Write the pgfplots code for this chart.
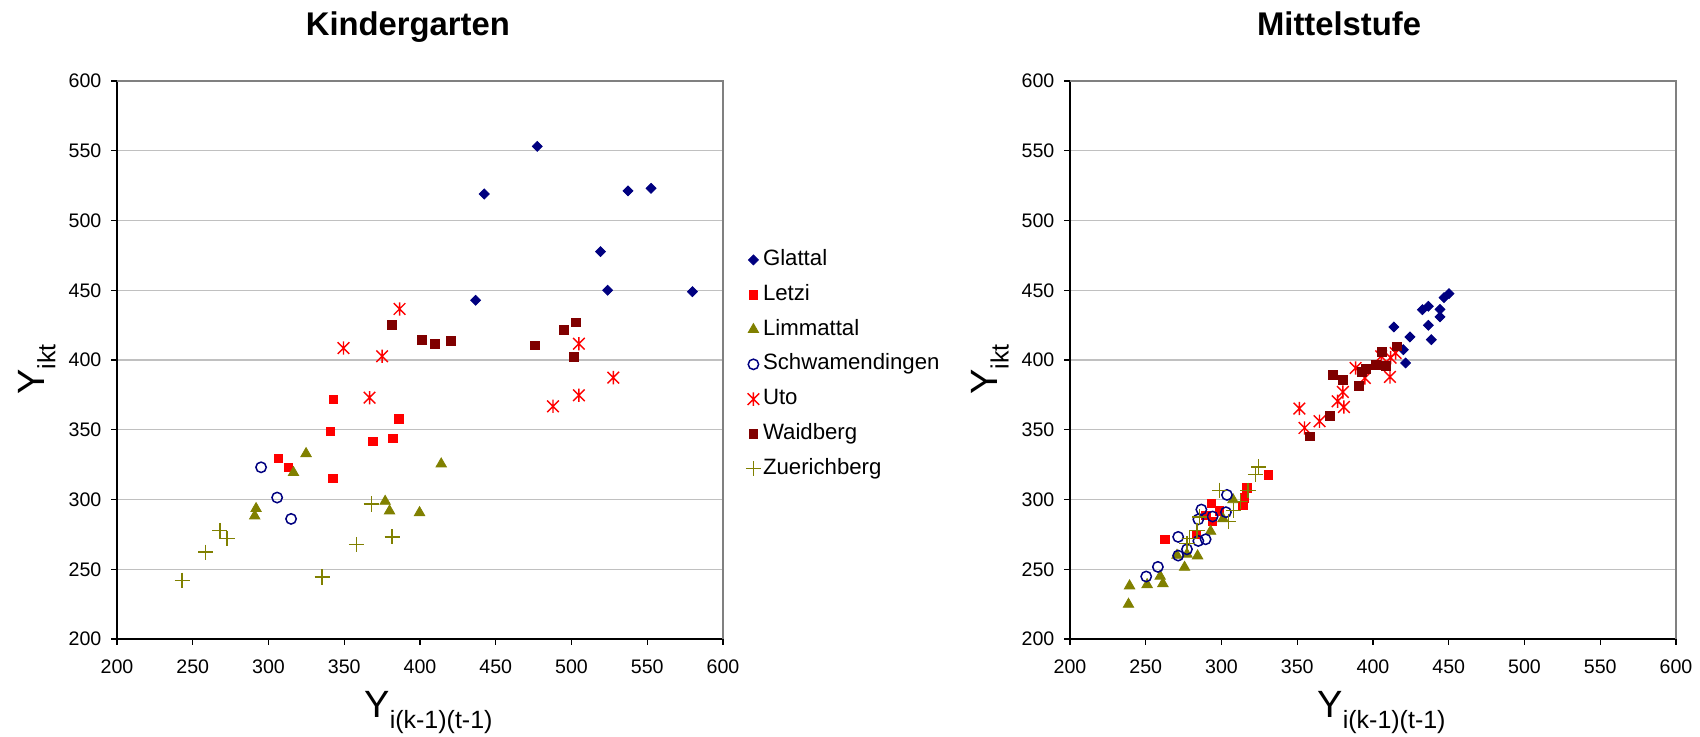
\documentclass[border=0pt]{standalone}
\usepackage{pgfplots}
\pgfplotsset{compat=1.18}
\usepackage{fontspec}
\setmainfont{Liberation Sans}
\definecolor{cnavy}{HTML}{000080}
\definecolor{cred}{HTML}{FF0000}
\definecolor{colive}{HTML}{808000}
\definecolor{cmaroon}{HTML}{800000}
\definecolor{gridgray}{HTML}{C0C0C0}
\definecolor{boxgray}{HTML}{808080}
\pgfdeclareplotmark{xstar}{%
  \pgfpathmoveto{\pgfqpoint{-\pgfplotmarksize}{-\pgfplotmarksize}}%
  \pgfpathlineto{\pgfqpoint{\pgfplotmarksize}{\pgfplotmarksize}}%
  \pgfpathmoveto{\pgfqpoint{-\pgfplotmarksize}{\pgfplotmarksize}}%
  \pgfpathlineto{\pgfqpoint{\pgfplotmarksize}{-\pgfplotmarksize}}%
  \pgfpathmoveto{\pgfqpoint{0pt}{-1.15\pgfplotmarksize}}%
  \pgfpathlineto{\pgfqpoint{0pt}{1.15\pgfplotmarksize}}%
  \pgfusepathqstroke}
\pgfplotsset{
  myax/.style={
    scale only axis, width=303pt, height=279pt,
    xmin=200, xmax=600, ymin=200, ymax=600,
    xtick={200,250,...,600}, ytick={200,250,...,600},
    ymajorgrids, grid style={color=gridgray, line width=0.6pt},
    axis x line*=bottom, axis y line*=left,
    axis line style={black, line width=0.7pt},
    tick align=outside, major tick length=2.8pt,
    tick style={black, line width=0.6pt},
    tick label style={font=\fontsize{9.8}{11.5}\selectfont},
    /pgf/number format/assume math mode=true,
    /pgf/number format/1000 sep={},
    xticklabel style={yshift=-4pt},
    yticklabel style={xshift=-1.5pt},
    xlabel={Y\raisebox{-0.29em}{\fontsize{12.5}{14}\selectfont i(k-1)(t-1)}},
    ylabel={Y\raisebox{-0.29em}{\fontsize{12.5}{14}\selectfont ikt}},
    label style={font=\fontsize{19}{23}\selectfont},
    xlabel style={at={(rel axis cs:0.514,-0.14)}, anchor=base},
    ylabel style={at={(rel axis cs:-0.132,0.483)}, anchor=center},
    title style={font=\bfseries\fontsize{16.4}{19}\selectfont, anchor=base, yshift=16.9pt},
    clip=false,
    after end axis/.code={\draw[boxgray, line width=0.6pt] (rel axis cs:0,1) -- (rel axis cs:1,1) -- (rel axis cs:1,0);},
  },
  sGlattal/.style={only marks, mark=square*, mark size=1.75pt, color=cnavy, mark options={fill=cnavy, rotate=45}},
  sLetzi/.style={only marks, mark=square*, mark size=2.1pt, color=cred, mark options={fill=cred}},
  sLimmattal/.style={only marks, mark=triangle*, mark size=3pt, color=colive, mark options={fill=colive}},
  sSchw/.style={only marks, mark=o, mark size=2.6pt, color=cnavy, mark options={line width=0.75pt}},
  sUto/.style={only marks, mark=xstar, mark size=2.9pt, color=cred, mark options={line width=0.7pt}},
  sWaid/.style={only marks, mark=square*, mark size=2.2pt, color=cmaroon, mark options={fill=cmaroon}},
  sZuer/.style={only marks, mark=+, mark size=3.8pt, color=colive, mark options={line width=0.65pt}},
}
\begin{document}
\begin{tikzpicture}
\useasboundingbox (0,0) rectangle (850pt,368pt);
% ---------------- Kindergarten ----------------
\begin{axis}[myax, at={(58.5pt,48.5pt)}, anchor=south west,
  title={Kindergarten}, title style={at={(rel axis cs:0.48,1)}},
  legend style={at={(rel axis cs:1.037,0.703)}, anchor=north west, draw=none, fill=none,
    inner sep=0pt, font=\fontsize{11.1}{13.3}\selectfont, row sep=4.6pt,
    nodes={inner sep=1pt, text height=8.2pt, text depth=2.6pt}},
  legend cell align=left]
\addplot[sGlattal] coordinates {(477.4,553.2)(442.4,519.0)(537.3,521.2)(552.5,523.1)(519.2,477.7)(523.9,450.0)(579.8,449.0)(436.7,442.8)};
\addlegendentry{Glattal}
\addplot[sLetzi] coordinates {(306.5,329.3)(313.2,323.0)(340.7,348.9)(342.7,371.6)(342.4,315.0)(368.9,341.7)(382.1,343.7)(386.0,357.9)};
\addlegendentry{Letzi}
\addplot[sLimmattal] coordinates {(324.8,332.9)(316.5,319.3)(414.0,325.5)(291.8,293.5)(290.9,288.2)(377.0,298.7)(379.9,291.8)(399.7,290.6)};
\addlegendentry{Limmattal}
\addplot[sSchw] coordinates {(295.1,323.1)(305.7,301.4)(314.9,286.1)};
\addlegendentry{Schwamendingen}
\addplot[sUto] coordinates {(386.5,436.6)(349.5,408.6)(375.0,402.7)(366.7,373.0)(504.9,411.7)(527.6,387.4)(504.9,374.7)(487.8,366.8)};
\addlegendentry{Uto}
\addplot[sWaid] coordinates {(381.2,424.9)(401.2,414.6)(409.8,411.5)(420.2,413.7)(476.1,410.5)(495.0,421.8)(502.7,427.0)(501.6,402.4)};
\addlegendentry{Waidberg}
\addplot[sZuer] coordinates {(243.0,242.1)(258.6,262.3)(267.9,277.8)(272.6,272.0)(335.4,244.5)(358.1,267.7)(367.8,296.8)(381.6,273.2)};
\addlegendentry{Zuerichberg}
\end{axis}
% ---------------- Mittelstufe ----------------
\begin{axis}[myax, at={(535pt,48.5pt)}, anchor=south west,
  title={Mittelstufe}, title style={at={(rel axis cs:0.444,1)}}]
\addplot[sGlattal] coordinates {(450.2,447.6)(446.9,444.7)(436.5,438.5)(432.6,436.1)(444.2,436.3)(444.2,430.9)(436.5,424.9)(413.8,423.7)(424.4,416.5)(438.5,414.6)(420.0,407.4)(421.5,397.9)};
\addplot[sLetzi] coordinates {(262.6,271.5)(283.3,275.1)(293.3,297.1)(289.7,288.7)(294.1,284.4)(298.6,291.8)(314.2,295.6)(315.1,301.1)(316.8,308.3)(330.9,317.6)};
\addplot[sLimmattal] coordinates {(238.6,224.9)(239.3,238.1)(250.9,239.0)(259.5,245.0)(261.3,239.7)(275.6,251.4)(277.2,260.8)(284.2,259.6)(292.8,277.2)(301.0,286.3)(307.6,299.9)(270.6,260.0)};
\addplot[sSchw] coordinates {(250.3,244.8)(258.0,251.7)(271.4,259.8)(277.2,264.3)(271.4,273.2)(284.7,270.3)(289.5,271.5)(284.7,285.8)(286.7,292.8)(294.1,287.8)(302.9,290.9)(303.6,303.3)};
\addplot[sUto] coordinates {(351.4,365.2)(354.8,351.3)(364.7,356.1)(376.6,370.4)(380.1,377.1)(380.8,366.3)(388.5,394.3)(394.6,387.1)(405.4,402.7)(411.6,401.7)(414.9,405.0)(411.2,387.9)};
\addplot[sWaid] coordinates {(416.0,409.8)(405.9,405.8)(402.1,396.7)(408.5,395.5)(395.3,393.8)(392.4,391.4)(373.5,389.5)(380.1,385.5)(390.7,381.2)(371.5,359.7)(358.5,345.3)};
\addplot[sZuer] coordinates {(324.6,323.3)(322.4,318.1)(298.6,306.6)(317.5,306.6)(308.0,292.3)(304.7,284.0)(312.4,298.7)(285.6,287.5)(283.8,277.9)(278.7,272.0)(277.2,268.4)};
\end{axis}
\end{tikzpicture}
\end{document}
